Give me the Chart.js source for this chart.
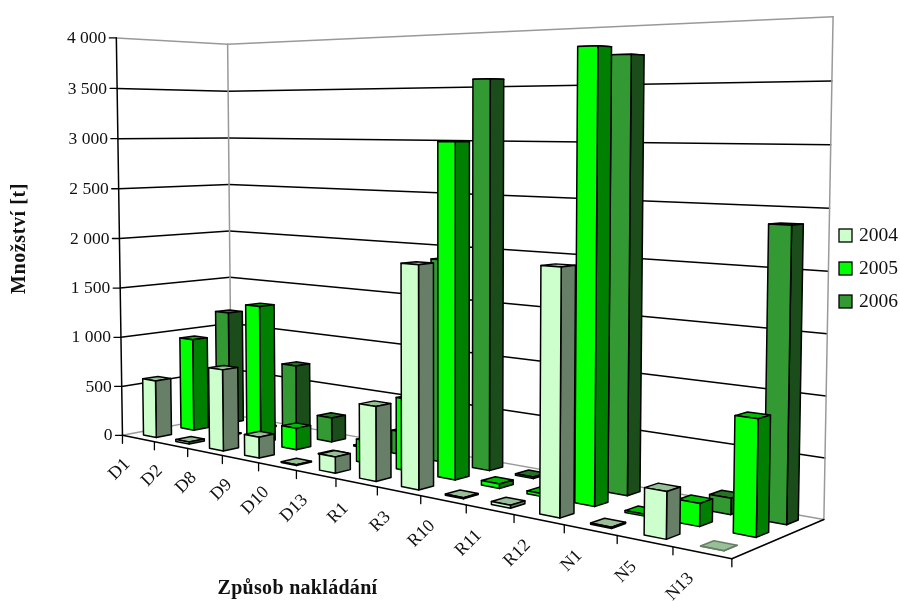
<!DOCTYPE html>
<html>
<head>
<meta charset="utf-8">
<style>
  html, body { margin: 0; padding: 0; background: #fff; }
  canvas { display: block; }
</style>
<script src="https://cdn.jsdelivr.net/npm/chart.js@4/dist/chart.umd.js"></script>
</head>
<body>
<canvas id="wasteChart" width="900" height="601"></canvas>
<script>
const categories = ['D1','D2','D8','D9','D10','D13','R1','R3','R10','R11','R12','N1','N5','N13'];
const years = ['2004','2005','2006'];
const values2004 = [575, 20, 790, 200, 8, 150, 670, 1955, 10, 25, 2025, 10, 370, 1];
const values2005 = [940, 5, 1360, 210, 5, 210, 660, 3000, 40, 25, 3790, 15, 185, 920];
const values2006 = [1170, 10, 710, 240, 10, 220, 1900, 3560, 15, 5, 3740, 5, 135, 2375];
const frontColors = ['#ccffcc', '#00ff00', '#339933'];
const sideColors = ['#667f66', '#008000', '#1a4d1a'];
const topColors = ['#99bf99', '#00bf00', '#267326'];

const SERIF = '"Liberation Serif", "Times New Roman", serif';
const BAR_SHARE = 0.4; // gap width and gap depth of 150 %

// room corners: [category 0..1, depth 0..1, height 0..1] -> canvas pixel
const roomCorners = [
  [0, 0, 0, 123, 435], [0, 0, 1, 116, 38],
  [0, 1, 0, 231, 415], [0, 1, 1, 228, 44],
  [1, 1, 0, 824, 519], [1, 1, 1, 833, 17],
  [1, 0, 0, 732, 559], [0.5, 0, 0, 377, 487]
];

// least squares camera matrix from the room corners
function solveCamera(points) {
  const n = 11;
  const A = Array.from({ length: n }, () => new Array(n + 1).fill(0));
  const addRow = row => {
    for (let i = 0; i < n; i++) {
      for (let j = 0; j <= n; j++) A[i][j] += row[i] * row[j];
    }
  };
  points.forEach(([u, v, h, x, y]) => {
    addRow([u, v, h, 1, 0, 0, 0, 0, -x * u, -x * v, -x * h, x]);
    addRow([0, 0, 0, 0, u, v, h, 1, -y * u, -y * v, -y * h, y]);
  });
  for (let c = 0; c < n; c++) {
    let best = c;
    for (let r = c + 1; r < n; r++) if (Math.abs(A[r][c]) > Math.abs(A[best][c])) best = r;
    [A[c], A[best]] = [A[best], A[c]];
    for (let r = 0; r < n; r++) {
      if (r === c) continue;
      const f = A[r][c] / A[c][c];
      for (let j = c; j <= n; j++) A[r][j] -= f * A[c][j];
    }
  }
  return A.map((row, i) => row[n] / row[i]);
}

const cam = solveCamera(roomCorners);

function project(u, v, h) {
  const w = cam[8] * u + cam[9] * v + cam[10] * h + 1;
  return {
    x: (cam[0] * u + cam[1] * v + cam[2] * h + cam[3]) / w,
    y: (cam[4] * u + cam[5] * v + cam[6] * h + cam[7]) / w
  };
}

// scale helpers: library pixel -> 0..1 inside the scale box
const uOf = (chart, val) => (chart.scales.x.getPixelForValue(val) - chart.scales.x.left) / chart.scales.x.width;
const vOf = (chart, val) => (chart.scales.depth.getPixelForValue(val) - chart.scales.depth.left) / chart.scales.depth.width;
const hOf = (chart, val) => (chart.scales.y.bottom - chart.scales.y.getPixelForValue(val)) / chart.scales.y.height;

function poly(ctx, pts, fill) {
  ctx.beginPath();
  pts.forEach((p, i) => (i ? ctx.lineTo(p.x, p.y) : ctx.moveTo(p.x, p.y)));
  ctx.closePath();
  ctx.fillStyle = fill;
  ctx.fill();
  ctx.stroke();
}

function seg(ctx, a, b, color, width) {
  ctx.beginPath();
  ctx.moveTo(a.x, a.y);
  ctx.lineTo(b.x, b.y);
  ctx.strokeStyle = color;
  ctx.lineWidth = width;
  ctx.stroke();
}

// each dataset paints its boxes left to right, the library draws the last dataset first
class Bar3dController extends Chart.BarController {
  draw() {
    const chart = this.chart;
    const ctx = chart.ctx;
    const s = this.index;
    const half = BAR_SHARE / 2;
    const v0 = vOf(chart, s - half);
    const v1 = vOf(chart, s + half);
    ctx.save();
    ctx.lineWidth = 1.5;
    ctx.lineJoin = 'round';
    this.getMeta().data.forEach((el, i) => {
      const value = this.getParsed(i).y;
      const u0 = uOf(chart, i - half);
      const u1 = uOf(chart, i + half);
      const h = hOf(chart, value);
      // practically empty cells only leave a soft outline on the floor
      ctx.strokeStyle = value > 1 ? '#000' : sideColors[s];
      poly(ctx, [project(u0, v0, h), project(u1, v0, h), project(u1, v1, h), project(u0, v1, h)], topColors[s]);
      poly(ctx, [project(u1, v0, 0), project(u1, v1, 0), project(u1, v1, h), project(u1, v0, h)], sideColors[s]);
      poly(ctx, [project(u0, v0, 0), project(u1, v0, 0), project(u1, v0, h), project(u0, v0, h)], frontColors[s]);
    });
    ctx.restore();
  }
}
Bar3dController.id = 'bar3d';
Chart.register(Bar3dController);

const GRID_GRAY = '#999';

const roomPlugin = {
  id: 'room',
  beforeDatasetsDraw(chart) {
    const ctx = chart.ctx;
    const yScale = chart.scales.y;
    ctx.save();
    ctx.lineCap = 'round';

    // grid lines on the left and back wall
    yScale.ticks.forEach(t => {
      const h = hOf(chart, t.value);
      const edge = t.value === 0 || t.value === yScale.max;
      const color = edge ? GRID_GRAY : '#000';
      seg(ctx, project(0, 0, h), project(0, 1, h), color, 1.5);
      seg(ctx, project(0, 1, h), project(1, 1, h), color, 1.5);
    });
    seg(ctx, project(0, 1, 0), project(0, 1, 1), GRID_GRAY, 1.5);
    seg(ctx, project(1, 1, 0), project(1, 1, 1), GRID_GRAY, 1.5);

    // floor edges and value axis
    seg(ctx, project(0, 0, 0), project(0, 0, 1), '#000', 1.5);
    seg(ctx, project(0, 0, 0), project(1, 0, 0), '#000', 1.5);
    seg(ctx, project(1, 0, 0), project(1, 1, 0), '#000', 1.5);

    // value ticks and labels
    ctx.fillStyle = '#111';
    ctx.font = '17.5px ' + SERIF;
    ctx.textAlign = 'right';
    ctx.textBaseline = 'middle';
    yScale.ticks.forEach(t => {
      const p = project(0, 0, hOf(chart, t.value));
      seg(ctx, p, { x: p.x - 7, y: p.y }, '#000', 1.3);
      ctx.fillText(t.label, p.x - 10, p.y + 0.5);
    });

    // category ticks and slanted labels
    ctx.font = '18px ' + SERIF;
    categories.forEach((name, i) => {
      const edge = project(uOf(chart, i - 0.5), 0, 0);
      seg(ctx, edge, { x: edge.x, y: edge.y + 8 }, '#000', 1.3);
      const mid = project(uOf(chart, i), 0, 0);
      ctx.save();
      ctx.translate(mid.x - 11, mid.y + 23);
      ctx.rotate(-Math.PI / 4);
      ctx.fillText(name, 0, 0);
      ctx.restore();
    });
    const last = project(1, 0, 0);
    seg(ctx, last, { x: last.x, y: last.y + 8 }, '#000', 1.3);

    // axis titles
    ctx.font = 'bold 20px ' + SERIF;
    ctx.textAlign = 'center';
    ctx.letterSpacing = '0.3px';
    ctx.fillText('Způsob nakládání', 297.5, 589);
    ctx.letterSpacing = '0.6px';
    ctx.save();
    ctx.translate(20, 238.5);
    ctx.rotate(-Math.PI / 2);
    ctx.fillText('Množství [t]', 0, 0);
    ctx.restore();
    ctx.letterSpacing = '0px';

    // legend
    ctx.font = '19.5px ' + SERIF;
    ctx.textAlign = 'left';
    chart.data.datasets.forEach((ds, i) => {
      const y = 229 + i * 33;
      ctx.fillStyle = ds.backgroundColor;
      ctx.strokeStyle = '#000';
      ctx.lineWidth = 1.3;
      ctx.fillRect(839, y, 13, 13);
      ctx.strokeRect(839, y, 13, 13);
      ctx.fillStyle = '#111';
      ctx.fillText(ds.label, 859, y + 7);
    });
    ctx.restore();
  }
};

const seriesValues = [values2004, values2005, values2006];

new Chart(document.getElementById('wasteChart'), {
  type: 'bar3d',
  data: {
    labels: categories,
    datasets: years.map((year, i) => ({
      label: year,
      data: seriesValues[i],
      backgroundColor: frontColors[i],
      borderColor: '#000'
    }))
  },
  options: {
    responsive: false,
    animation: false,
    plugins: {
      legend: { display: false },
      tooltip: { enabled: false }
    },
    scales: {
      x: { type: 'category', offset: true, display: false },
      depth: { type: 'category', axis: 'x', labels: years, offset: true, display: false },
      y: {
        type: 'linear',
        min: 0,
        max: 4000,
        display: false,
        ticks: {
          stepSize: 500,
          callback: v => String(v).replace(/\B(?=(\d{3})+$)/g, ' ')
        }
      }
    }
  },
  plugins: [roomPlugin]
});
</script>
</body>
</html>
